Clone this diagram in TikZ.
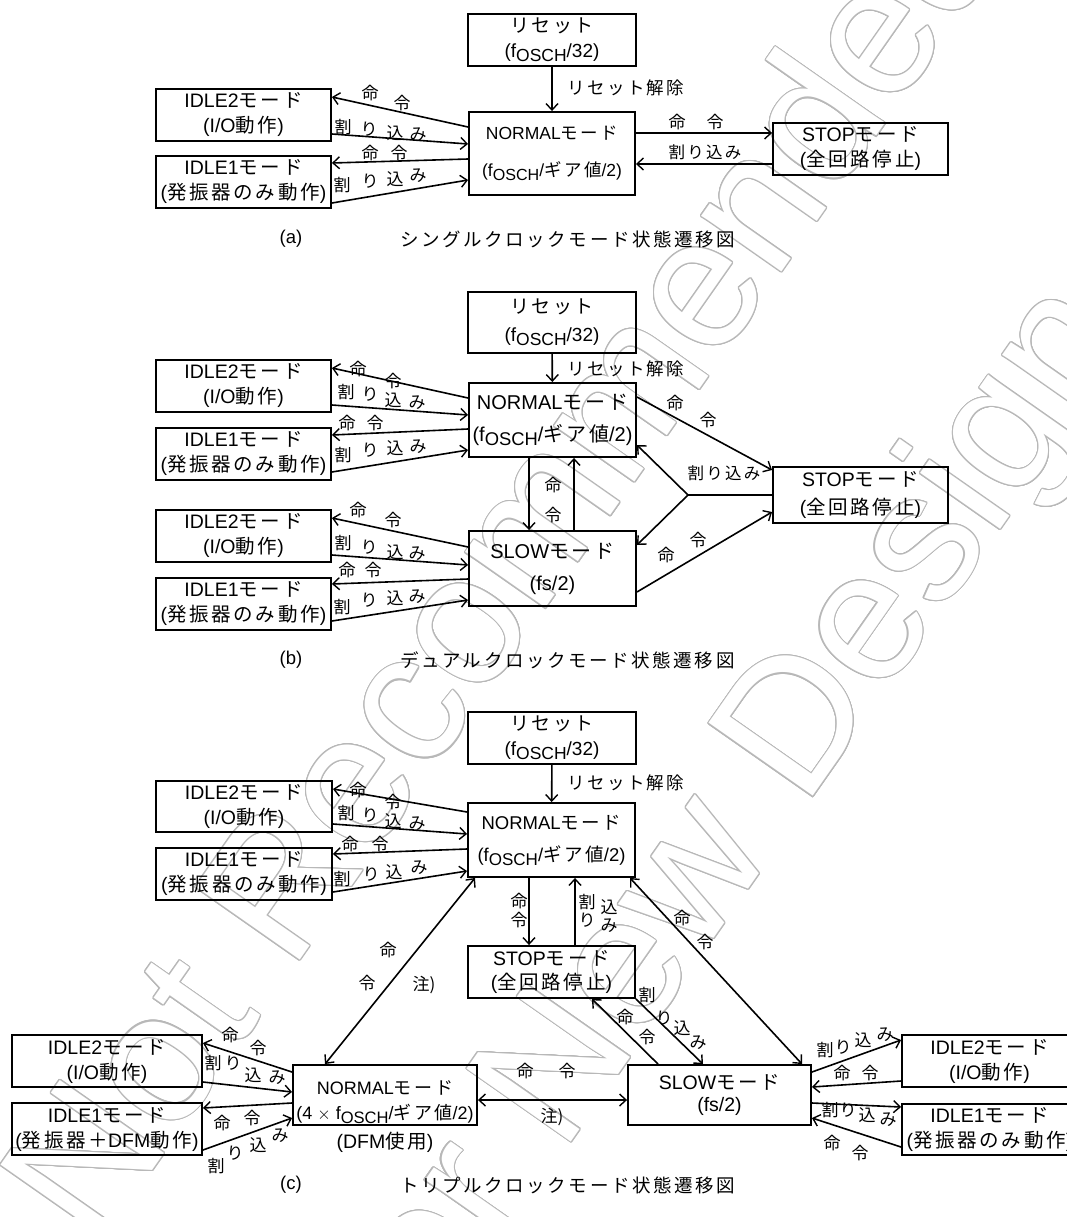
\documentclass[tikz,border=0pt]{standalone}
\usepackage{fontspec}
\usepackage{graphicx}
\usepackage[copies]{contour}
\setmainfont{Liberation Sans}
\newfontfamily\jpf[LetterSpace=14]{Noto Sans CJK JP}
\newfontfamily\jpn{Noto Sans CJK JP}
\usetikzlibrary{arrows.meta}
\newcommand\J[1]{{\jpf #1}}
\newcommand\fosc{f\raisebox{-0.22em}{\scalebox{0.92}{OSCH}}}
\contourlength{1.1pt}
\contournumber{20}
\newcounter{lbc}
\newcommand\lb[2]{\stepcounter{lbc}\node[lab] (lb\arabic{lbc}) at (#1) {#2};}
\tikzset{
  bx/.style={draw, line width=1.9pt, align=center, inner sep=0pt, font=\fontsize{19.5}{25}\selectfont},
  tip/.tip={Straight Barb[length=6.5pt,width=12pt,line width=1.4pt]},
  arr/.style={line width=1.6pt, -tip},
  arr2/.style={line width=1.6pt, tip-tip},
  ln/.style={line width=1.6pt},
  lab/.style={inner sep=0pt, font=\jpn\fontsize{17}{17}\selectfont},
  hlab/.style={inner sep=0pt, font=\fontsize{16.5}{17}\selectfont},
  captxt/.style={inner sep=0pt, font=\fontsize{18.5}{20}\selectfont},
  wmk/.style={inner sep=0pt, rotate=55, font=\fontsize{185}{190}\selectfont}
}
\begin{document}
\begin{tikzpicture}[x=1pt,y=-1pt]
\fill[white] (0,0) rectangle (1066,1217);
\useasboundingbox (0,0) rectangle (1066,1217);
% watermark
\node[wmk] (wm1) at (500,560) {\contour{black!28}{\textcolor{white}{Not Recommended}}};
\node[wmk] (wm2) at (760,790) {\contour{black!28}{\textcolor{white}{for New Designs}}};

% ================= (a) =================
\node[bx, minimum width=168pt, minimum height=52pt, font=\fontsize{19}{25}\selectfont] (rstA) at (552,40) {\J{リセット}\\(\fosc/32)};
\node[bx, minimum width=166pt, minimum height=83pt, font=\fontsize{17.5}{37}\selectfont] (nrmA) at (552,153.5) {NORMAL\J{モード}\\(\fosc/\J{ギア値}/2)};
\node[bx, minimum width=175pt, minimum height=52pt] (i2A) at (243.5,115) {IDLE2\J{モード}\\(I/O\J{動作})};
\node[bx, minimum width=175pt, minimum height=52pt] (i1A) at (243.5,182) {IDLE1\J{モード}\\(\J{発振器のみ動作})};
\node[bx, minimum width=175pt, minimum height=52pt] (stA) at (860.5,149) {STOP\J{モード}\\(\J{全回路停止})};
\draw[arr] (rstA) -- (nrmA);
\node[anchor=west, inner sep=0pt, font=\fontsize{17.5}{18}\selectfont] (rlA) at (567,88) {\J{リセット解除}};
\draw[arr] (nrmA.west |- 0,127) -- (i2A.east |- 0,97);
\draw[arr] (i2A.east |- 0,134) -- (nrmA.west |- 0,144);
\draw[arr] (nrmA.west |- 0,159) -- (i1A.east |- 0,163);
\draw[arr] (i1A.east |- 0,203) -- (nrmA.west |- 0,180);
\draw[arr] (nrmA.east |- 0,133) -- (stA.west |- 0,133);
\draw[arr] (stA.west |- 0,164) -- (nrmA.east |- 0,164);
\lb{370,93}{命}\lb{402,103}{令}
\lb{343,127}{割}\lb{369,129}{り}\lb{395,133}{込}\lb{418,135}{み}
\lb{370,153}{命}\lb{399,153}{令}
\lb{342,185}{割}\lb{370,181}{り}\lb{395,179}{込}\lb{418,176}{み}
\lb{677,122}{命}\lb{715,122}{令}
\node[hlab] (wA) at (705,152) {\J{割り込み}};
\node[captxt] (capA) at (291,239) {(a)};
\node[captxt, anchor=west] (capAt) at (400,239) {\J{シングルクロックモード状態遷移図}};

% ================= (b) =================
\node[bx, minimum width=168pt, minimum height=61pt, font=\fontsize{19}{28}\selectfont] (rstB) at (552,322.5) {\J{リセット}\\(\fosc/32)};
\node[bx, minimum width=167pt, minimum height=74pt, font=\fontsize{20}{32}\selectfont] (nrmB) at (552.5,420) {NORMAL\J{モード}\\(\fosc/\J{ギア値}/2)};
\node[bx, minimum width=167pt, minimum height=75pt, font=\fontsize{20}{32}\selectfont] (slwB) at (552.5,568.5) {SLOW\J{モード}\\(fs/2)};
\node[bx, minimum width=175pt, minimum height=52pt] (i2B) at (243.5,386) {IDLE2\J{モード}\\(I/O\J{動作})};
\node[bx, minimum width=175pt, minimum height=52pt] (i1B) at (243.5,454) {IDLE1\J{モード}\\(\J{発振器のみ動作})};
\node[bx, minimum width=175pt, minimum height=52pt] (i2Bs) at (243.5,536) {IDLE2\J{モード}\\(I/O\J{動作})};
\node[bx, minimum width=175pt, minimum height=52pt] (i1Bs) at (243.5,604) {IDLE1\J{モード}\\(\J{発振器のみ動作})};
\node[bx, minimum width=175pt, minimum height=56pt, font=\fontsize{19.5}{28}\selectfont] (stB) at (860.5,495) {STOP\J{モード}\\(\J{全回路停止})};
\draw[arr] (rstB) -- (nrmB);
\node[anchor=west, inner sep=0pt, font=\fontsize{17.5}{18}\selectfont] (rlB) at (567,369) {\J{リセット解除}};
\draw[arr] (nrmB.west |- 0,398) -- (i2B.east |- 0,368);
\draw[arr] (i2B.east |- 0,405) -- (nrmB.west |- 0,415);
\draw[arr] (nrmB.west |- 0,429) -- (i1B.east |- 0,435);
\draw[arr] (i1B.east |- 0,472) -- (nrmB.west |- 0,450);
\lb{358,369}{命}\lb{393,381}{令}
\lb{346,392}{割}\lb{370,394}{り}\lb{393,400}{込}\lb{417,403}{み}
\lb{347,423}{命}\lb{375,423}{令}
\lb{343,455}{割}\lb{370,450}{り}\lb{395,448}{込}\lb{418,447}{み}
\draw[arr] (slwB.west |- 0,547) -- (i2Bs.east |- 0,518);
\draw[arr] (i2Bs.east |- 0,555) -- (slwB.west |- 0,565);
\draw[arr] (slwB.west |- 0,579) -- (i1Bs.east |- 0,584);
\draw[arr] (i1Bs.east |- 0,621) -- (slwB.west |- 0,600);
\lb{358,510}{命}\lb{393,520}{令}
\lb{343,543}{割}\lb{369,547}{り}\lb{395,552}{込}\lb{417,554}{み}
\lb{347,570}{命}\lb{373,570}{令}
\lb{342,607}{割}\lb{369,600}{り}\lb{395,598}{込}\lb{417,597}{み}
\draw[arr] (nrmB.south -| 529,0) -- (slwB.north -| 529,0);
\draw[arr] (slwB.north -| 574,0) -- (nrmB.south -| 574,0);
\lb{553,485}{命}\lb{553,515}{令}
\draw[arr] (nrmB.east |- 0,397) -- (stB.west |- 0,470);
\coordinate (jB) at (688,495);
\draw[ln] (stB.west |- 0,495) -- (jB);
\draw[arr] (jB) -- (nrmB.east |- 0,445);
\draw[arr] (jB) -- (slwB.east |- 0,545);
\draw[arr] (slwB.east |- 0,592) -- (stB.west |- 0,512);
\lb{675,403}{命}\lb{708,420}{令}
\node[hlab] (wB) at (724,473) {\J{割り込み}};
\lb{698,540}{令}\lb{666,555}{命}
\node[captxt] (capB) at (291,660) {(b)};
\node[captxt, anchor=west] (capBt) at (400,660) {\J{デュアルクロックモード状態遷移図}};

% ================= (c) =================
\node[bx, minimum width=168pt, minimum height=52pt, font=\fontsize{19}{25}\selectfont] (rstC) at (552,738) {\J{リセット}\\(\fosc/32)};
\node[bx, minimum width=167pt, minimum height=74pt, font=\fontsize{18.5}{32}\selectfont] (nrmC) at (551.5,840) {NORMAL\J{モード}\\(\fosc/\J{ギア値}/2)};
\node[bx, minimum width=176pt, minimum height=51pt] (i2C) at (244,806.5) {IDLE2\J{モード}\\(I/O\J{動作})};
\node[bx, minimum width=176pt, minimum height=52pt] (i1C) at (244,874) {IDLE1\J{モード}\\(\J{発振器のみ動作})};
\node[bx, minimum width=167pt, minimum height=52pt, font=\fontsize{19.5}{24}\selectfont] (stC) at (551.5,972) {STOP\J{モード}\\(\J{全回路停止})};
\node[bx, minimum width=183pt, minimum height=60pt, font=\fontsize{19.5}{22}\selectfont] (slwC) at (719.5,1095) {SLOW\J{モード}\\(fs/2)};
\node[bx, minimum width=184pt, minimum height=60pt, font=\fontsize{18}{25}\selectfont] (dfm) at (385,1095) {\rule{0pt}{28pt}NORMAL\J{モード}\\(4 $\times$ \fosc/\J{ギア値}/2)};
\node[inner sep=0pt, font=\fontsize{19.5}{20}\selectfont] (dfmU) at (385,1142) {(DFM\J{使用})};
\node[bx, minimum width=190pt, minimum height=52pt] (i2L) at (107,1061) {IDLE2\J{モード}\\(I/O\J{動作})};
\node[bx, minimum width=190pt, minimum height=52pt] (i1L) at (107,1129) {IDLE1\J{モード}\\(\J{発振器＋}DFM\J{動作})};
\node[bx, minimum width=175pt, minimum height=52pt] (i2R) at (989.5,1061) {IDLE2\J{モード}\\(I/O\J{動作})};
\node[bx, minimum width=175pt, minimum height=51pt] (i1R) at (989.5,1129.5) {IDLE1\J{モード}\\(\J{発振器のみ動作})};
\draw[arr] (rstC) -- (nrmC);
\node[anchor=west, inner sep=0pt, font=\fontsize{17.5}{18}\selectfont] (rlC) at (567,783) {\J{リセット解除}};
\draw[arr] (nrmC.west |- 0,812) -- (i2C.east |- 0,789);
\draw[arr] (i2C.east |- 0,824) -- (nrmC.west |- 0,834);
\draw[arr] (nrmC.west |- 0,849) -- (i1C.east |- 0,854);
\draw[arr] (i1C.east |- 0,892) -- (nrmC.west |- 0,871);
\lb{358,790}{命}\lb{393,802}{令}
\lb{346,813}{割}\lb{370,815}{り}\lb{393,821}{込}\lb{417,824}{み}
\lb{350,844}{命}\lb{380,844}{令}
\lb{342,879}{割}\lb{371,874}{り}\lb{394,872}{込}\lb{419,868}{み}
\draw[arr] (nrmC.south -| 529,0) -- (stC.north -| 529,0);
\draw[arr] (stC.north -| 575,0) -- (nrmC.south -| 575,0);
\lb{519,901}{命}\lb{519,920}{令}
\lb{587,902}{割}\lb{587,920}{り}\lb{609,907}{込}\lb{609,926}{み}
\draw[arr2] (nrmC.south -| 475,0) -- (dfm.north -| 325,0);
\lb{388,950}{命}\lb{367,983}{令}
\node[lab] (n1) at (424,985) {注)};
\draw[arr2] (nrmC.south -| 630,0) -- (slwC.north -| 802,0);
\lb{682,918}{命}\lb{705,942}{令}
\draw[arr] (slwC.north -| 658,0) -- (stC.south -| 592,0);
\draw[arr] (stC.south east) -- (slwC.north -| 703,0);
\lb{625,1017}{命}\lb{647,1037}{令}
\lb{647,995}{割}\lb{664,1018}{り}\lb{682,1028}{込}\lb{698,1043}{み}
\draw[arr2] (dfm.east |- 0,1100) -- (slwC.west |- 0,1100);
\lb{525,1071}{命}\lb{567,1071}{令}
\node[lab] (n2) at (552,1117) {注)};
\draw[arr] (dfm.west |- 0,1072) -- (i2L.east |- 0,1043);
\draw[arr] (i2L.east |- 0,1082) -- (dfm.west |- 0,1092);
\draw[arr] (dfm.west |- 0,1103) -- (i1L.east |- 0,1108);
\draw[arr] (i1L.east |- 0,1150) -- (dfm.west |- 0,1118);
\lb{230,1035}{命}\lb{258,1048}{令}
\lb{213,1063}{割}\lb{233,1063}{り}\lb{253,1075}{込}\lb{277,1078}{み}
\lb{222,1123}{命}\lb{252,1118}{令}
\lb{216,1166}{割}\lb{235,1153}{り}\lb{258,1145}{込}\lb{280,1136}{み}
\draw[arr] (slwC.east |- 0,1072) -- (i2R.west |- 0,1040);
\draw[arr] (i2R.west |- 0,1081) -- (slwC.east |- 0,1087);
\draw[arr] (slwC.east |- 0,1103) -- (i1R.west |- 0,1107);
\draw[arr] (i1R.west |- 0,1147) -- (slwC.east |- 0,1118);
\lb{825,1050}{割}\lb{843,1047}{り}\lb{863,1040}{込}\lb{885,1035}{み}
\lb{842,1073}{命}\lb{870,1073}{令}
\lb{830,1110}{割}\lb{848,1110}{り}\lb{867,1115}{込}\lb{888,1120}{み}
\lb{832,1143}{命}\lb{860,1153}{令}
\node[captxt] (capC) at (291,1185) {(c)};
\node[captxt, anchor=west] (capCt) at (400,1185) {\J{トリプルクロックモード状態遷移図}};
\end{tikzpicture}
\end{document}
